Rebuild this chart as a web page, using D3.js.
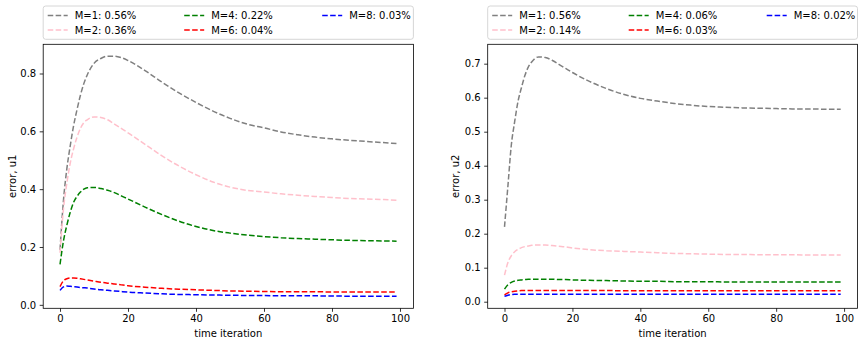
<!DOCTYPE html>
<html>
  <head>
    <meta charset="utf-8">
    <title>error vs time iteration</title>
    <script src="https://d3js.org/d3.v7.min.js"></script>
    <style>
      body { margin: 0; background: #fff; }
      text { font-family: "DejaVu Sans", sans-serif; font-size: 10px; fill: #000; }
      .domain { stroke: #000; stroke-width: 0.8px; }
      .tick line { stroke: #000; stroke-width: 0.8px; }
    </style>
  </head>
  <body>
    <svg id="chart" width="863" height="346"></svg>
    <script>
// time steps the values were read at
var steps = [0,1,2,3,4,5,6,7,8,10,12,14,16,18,20,25,30,35,40,45,50,55,60,65,70,75,80,85,90,95,99];

// u1 errors
var u1_m1 = [0.19,0.36,0.47,0.55,0.62,0.675,0.725,0.765,0.795,0.835,0.852,0.86,0.86,0.855,0.845,0.81,0.77,0.733,0.70,0.67,0.645,0.625,0.612,0.598,0.588,0.58,0.574,0.569,0.565,0.561,0.558];
var u1_m2 = [0.18,0.33,0.42,0.49,0.54,0.58,0.61,0.63,0.64,0.65,0.648,0.64,0.625,0.61,0.595,0.555,0.515,0.48,0.45,0.425,0.407,0.396,0.39,0.384,0.379,0.375,0.371,0.368,0.366,0.364,0.362];
var u1_m4 = [0.14,0.22,0.275,0.32,0.355,0.375,0.39,0.40,0.405,0.406,0.402,0.396,0.388,0.377,0.366,0.338,0.312,0.289,0.271,0.257,0.248,0.241,0.236,0.232,0.229,0.227,0.225,0.223,0.222,0.221,0.22];
var u1_m6 = [0.063,0.083,0.09,0.093,0.093,0.092,0.09,0.088,0.086,0.082,0.078,0.075,0.072,0.069,0.066,0.061,0.057,0.054,0.052,0.05,0.048,0.047,0.046,0.0455,0.045,0.045,0.0445,0.044,0.044,0.044,0.044];
var u1_m8 = [0.05,0.062,0.065,0.064,0.063,0.062,0.06,0.059,0.058,0.055,0.052,0.05,0.048,0.046,0.044,0.041,0.038,0.036,0.035,0.034,0.033,0.0325,0.032,0.0315,0.031,0.031,0.0305,0.03,0.03,0.03,0.03];

// u2 errors
var u2_m1 = [0.22,0.34,0.46,0.53,0.59,0.63,0.665,0.69,0.705,0.72,0.718,0.71,0.698,0.686,0.674,0.648,0.627,0.61,0.598,0.59,0.583,0.578,0.574,0.572,0.57,0.569,0.568,0.567,0.567,0.566,0.566];
var u2_m2 = [0.078,0.115,0.135,0.147,0.154,0.159,0.162,0.164,0.166,0.167,0.167,0.165,0.163,0.161,0.158,0.153,0.15,0.148,0.146,0.144,0.142,0.141,0.14,0.139,0.139,0.138,0.138,0.138,0.137,0.137,0.137];
var u2_m4 = [0.037,0.05,0.057,0.061,0.063,0.064,0.065,0.066,0.066,0.066,0.066,0.066,0.065,0.065,0.064,0.063,0.062,0.061,0.06,0.06,0.059,0.059,0.059,0.058,0.058,0.058,0.058,0.058,0.058,0.058,0.058];
var u2_m6 = [0.02,0.026,0.029,0.031,0.032,0.033,0.033,0.033,0.033,0.033,0.033,0.033,0.033,0.033,0.033,0.033,0.033,0.032,0.032,0.032,0.032,0.032,0.032,0.032,0.032,0.032,0.032,0.032,0.032,0.032,0.032];
var u2_m8 = [0.016,0.019,0.021,0.022,0.022,0.022,0.022,0.022,0.022,0.022,0.022,0.022,0.022,0.022,0.022,0.022,0.022,0.022,0.022,0.022,0.022,0.022,0.022,0.022,0.022,0.022,0.022,0.022,0.022,0.022,0.022];

var u1_labels = ["M=1: 0.56%", "M=2: 0.36%", "M=4: 0.22%", "M=6: 0.04%", "M=8: 0.03%"];
var u2_labels = ["M=1: 0.56%", "M=2: 0.14%", "M=4: 0.06%", "M=6: 0.03%", "M=8: 0.02%"];
var colors = ["gray", "pink", "green", "red", "blue"];

var xTicks = [0, 20, 40, 60, 80, 100];
var u1Ticks = [0, 0.2, 0.4, 0.6, 0.8];
var u2Ticks = [0, 0.1, 0.2, 0.3, 0.4, 0.5, 0.6, 0.7];

var svg = d3.select("#chart");

function drawPanel(opt) {
  var x = d3.scaleLinear().domain([-4.95, 103.95]).range([opt.left, opt.right]);
  var y = d3.scaleLinear().domain(opt.ydomain).range([308.3, 44.3]);

  var g = svg.append("g");

  // curves
  var line = d3.line()
    .x(function(d) { return x(d[0]); })
    .y(function(d) { return y(d[1]); })
    .curve(d3.curveMonotoneX);

  opt.series.forEach(function(vals, i) {
    g.append("path")
      .datum(steps.map(function(s, j) { return [s, vals[j]]; }))
      .attr("d", line)
      .attr("fill", "none")
      .attr("stroke", colors[i])
      .attr("stroke-width", 1.5)
      .attr("stroke-dasharray", "5.55,2.4");
  });

  // axes
  var xAxis = g.append("g")
    .attr("transform", "translate(0,308.3)")
    .call(d3.axisBottom(x).tickValues(xTicks).tickSize(3.5).tickPadding(3.5).tickSizeOuter(0));
  var yAxis = g.append("g")
    .attr("transform", "translate(" + opt.left + ",0)")
    .call(d3.axisLeft(y).tickValues(opt.yticks).tickFormat(d3.format(".1f")).tickSize(3.5).tickPadding(3.5).tickSizeOuter(0));
  [xAxis, yAxis].forEach(function(a) {
    a.selectAll("text").style("font-family", "DejaVu Sans").style("font-size", "10px").attr("fill", "#000");
    a.select(".domain").remove();
  });

  // frame
  g.append("rect")
    .attr("x", opt.left).attr("y", 44.3)
    .attr("width", opt.right - opt.left).attr("height", 308.3 - 44.3)
    .attr("fill", "none").attr("stroke", "#000").attr("stroke-width", 0.8);

  // axis labels
  g.append("text")
    .attr("x", (opt.left + opt.right) / 2).attr("y", 337)
    .attr("text-anchor", "middle")
    .text("time iteration");
  g.append("text")
    .attr("transform", "translate(" + opt.ylabelX + "," + ((44.3 + 308.3) / 2) + ") rotate(-90)")
    .attr("text-anchor", "middle")
    .text(opt.ylabel);

  // legend above the axes, 3 columns
  var lg = g.append("g");
  lg.append("rect")
    .attr("x", opt.left).attr("y", 6)
    .attr("width", opt.right - opt.left).attr("height", 33.3)
    .attr("rx", 2.5)
    .attr("fill", "#fff").attr("stroke", "#cccccc").attr("stroke-width", 0.8);
  var colX = [4.5, 141, 279];
  opt.labels.forEach(function(lab, i) {
    var cx = opt.left + colX[Math.floor(i / 2)];
    var cy = i % 2 === 0 ? 15.5 : 30;
    lg.append("line")
      .attr("x1", cx).attr("x2", cx + 20)
      .attr("y1", cy).attr("y2", cy)
      .attr("stroke", colors[i]).attr("stroke-width", 1.5)
      .attr("stroke-dasharray", "5.55,2.4");
    lg.append("text")
      .attr("x", cx + 27).attr("y", cy)
      .attr("dy", "0.35em")
      .text(lab);
  });
}

drawPanel({ left: 43.2, right: 413.4, ydomain: [-0.012, 0.901], yticks: u1Ticks,
  series: [u1_m1, u1_m2, u1_m4, u1_m6, u1_m8], labels: u1_labels, ylabel: "error, u1", ylabelX: 15.5 });
drawPanel({ left: 487.7, right: 857.5, ydomain: [-0.0194, 0.757], yticks: u2Ticks,
  series: [u2_m1, u2_m2, u2_m4, u2_m6, u2_m8], labels: u2_labels, ylabel: "error, u2", ylabelX: 458.5 });
    </script>
  </body>
</html>
